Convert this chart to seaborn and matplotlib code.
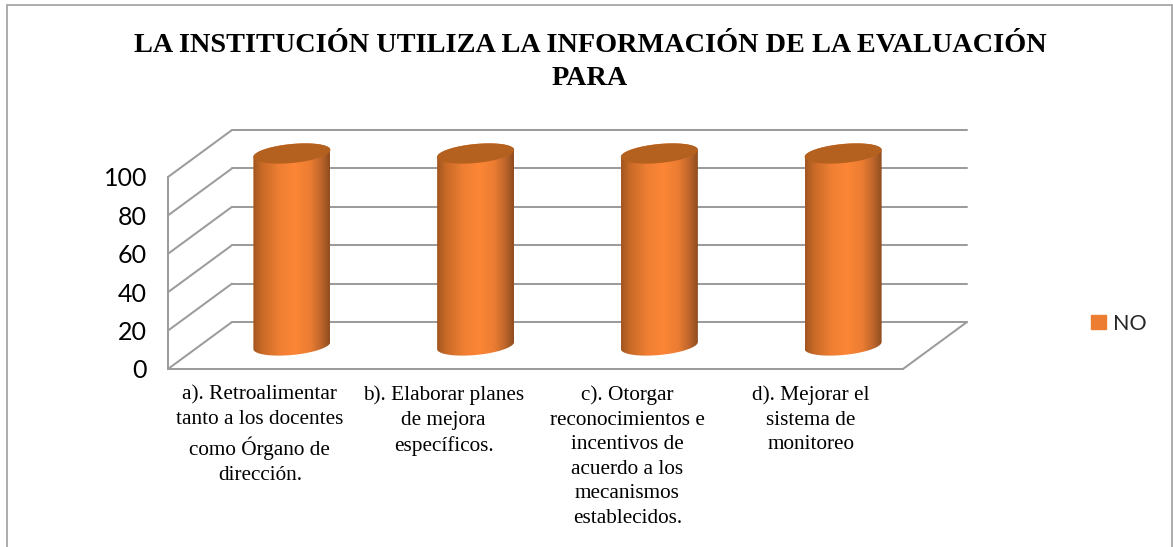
import numpy as np
import pandas as pd
import seaborn as sns
import matplotlib
matplotlib.use("Agg")
import matplotlib.pyplot as plt
from matplotlib.lines import Line2D
from matplotlib.patches import Patch, PathPatch
from matplotlib.path import Path

title_text = "LA INSTITUCIÓN UTILIZA LA INFORMACIÓN DE LA EVALUACIÓN\nPARA"
categories = [
    "a). Retroalimentar\ntanto a los docentes\ncomo Órgano de\ndirección.",
    "b). Elaborar planes\nde mejora\nespecíficos.",
    "c). Otorgar\nreconocimientos e\nincentivos de\nacuerdo a los\nmecanismos\nestablecidos.",
    "d). Mejorar el\nsistema de\nmonitoreo",
]
values_no = [100, 100, 100, 100]
y_ticks = [0, 20, 40, 60, 80, 100]
series_name = "NO"

W, H = 1173, 547
sns.set_theme(style="white")
plt.rcParams["font.family"] = ["Liberation Serif", "DejaVu Sans"]

fig = plt.figure(figsize=(W / 100, H / 100), dpi=100, facecolor="white")
left, right, base, top = 168, 903, 369, 177
ax = fig.add_axes([left / W, (H - base) / H, (right - left) / W, (base - top) / H])
ax.patch.set_visible(False)

df = pd.DataFrame({"cat": categories, "val": values_no})
sns.barplot(data=df, x="cat", y="val", ax=ax, width=77 / 183.75, color="#ED7D31")
ax.set_xlim(-0.5, 3.5)
ax.set_ylim(0, 100)

px_x = (right - left) / 4
px_y = (base - top) / 100
depth_x, depth_y = 64 / px_x, 47 / px_y
grid_c = "#9c9c9c"
lw = 1.45


def line(xs, ys):
    ax.add_line(Line2D(xs, ys, color=grid_c, lw=lw, clip_on=False, zorder=1,
                       solid_capstyle="round"))


for v in y_ticks:
    line([-0.5, -0.5 + depth_x], [v, v + depth_y])
    line([-0.5 + depth_x, 3.5 + depth_x], [v + depth_y, v + depth_y])
line([-0.5, -0.5], [0, 100])
line([-0.5, 3.5], [0, 0])
line([3.5, 3.5 + depth_x], [0, depth_y])

cmap = matplotlib.colors.LinearSegmentedColormap.from_list(
    "cyl",
    [(0, "#a2561f"), (0.12, "#c96a28"), (0.35, "#f07f33"), (0.55, "#fd8636"),
     (0.75, "#ea7c32"), (0.9, "#b9642a"), (1, "#8f4c1e")],
)
grad = np.linspace(0, 1, 256).reshape(1, -1)
t_vals = np.linspace(0, 2 * np.pi, 90)

for bar in list(ax.patches):
    x0, w, h = bar.get_x(), bar.get_width(), bar.get_height()
    bar.set_visible(False)
    x0 += depth_x / 2
    cx = x0 + w / 2
    y0 = depth_y / 2
    a = w / 2
    b = 9.5 / px_y
    sh = 3.5 / px_y

    def ell(yc, t):
        return np.column_stack([cx + a * np.cos(t), yc + b * np.sin(t) + sh * np.cos(t)])

    lower = ell(y0, np.linspace(np.pi, 2 * np.pi, 50))
    upper = ell(y0 + h, np.linspace(0, np.pi, 50))
    verts = np.vstack([lower, upper, lower[:1]])
    codes = [Path.MOVETO] + [Path.LINETO] * (len(verts) - 2) + [Path.CLOSEPOLY]
    body = PathPatch(Path(verts, codes), transform=ax.transData, fc="none", ec="none")
    ax.add_patch(body)
    body.set_clip_on(False)
    im = ax.imshow(grad, cmap=cmap, aspect="auto", zorder=3, interpolation="bilinear",
                   extent=[x0, x0 + w, y0 - 2 * b, y0 + h + 2 * b])
    im.set_clip_box(fig.bbox)
    im.set_clip_path(body)
    cap = ell(y0 + h, t_vals)
    ax.fill(cap[:, 0], cap[:, 1], color="#b4601f", lw=0, zorder=4, clip_on=False)

ax.set_xlim(-0.5, 3.5)
ax.set_ylim(0, 100)
ax.set_xlabel("")
ax.set_ylabel("")
sns.despine(ax=ax, left=True, bottom=True)
ax.set_yticks(y_ticks)
ax.tick_params(axis="y", length=0, pad=15, labelsize=18, labelcolor="black")
for t in ax.get_yticklabels():
    t.set_fontfamily(["Lato", "DejaVu Sans"])
ax.tick_params(axis="x", length=0, pad=12, labelsize=15.3, labelcolor="black")
for t in ax.get_xticklabels():
    t.set_linespacing(1.39)
    t.set_ha("center")
    t.set_va("top")

fig.text(590 / W, 1 - 33 / H, title_text, ha="center", va="top", fontsize=20.35,
         fontweight="bold", color="black", linespacing=1.4,
         family=["Liberation Serif", "DejaVu Sans"])

fig.legend(handles=[Patch(color="#ED7D31", label=series_name)], loc="center left",
           bbox_to_anchor=(1091 / W, 1 - 323.5 / H), frameon=False, handlelength=0.68,
           handleheight=0.68, handletextpad=0.32, borderpad=0, borderaxespad=0,
           prop={"family": ["Lato", "DejaVu Sans"], "size": 15.5})

for xs, ys in [((7, 7), (547, 5)), ((7, 1172), (5, 5)), ((1172, 1172), (5, 547))]:
    fig.add_artist(Line2D([x / W for x in xs], [1 - y / H for y in ys],
                          color="#a6a6a6", lw=1.3))

fig.savefig("out.png", dpi=100)
